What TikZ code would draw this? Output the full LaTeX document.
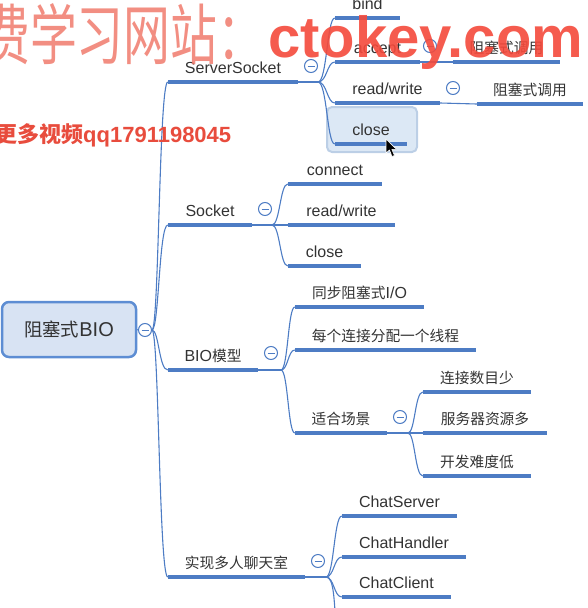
\documentclass[tikz,border=0pt]{standalone}
\usepackage{fontspec}
\setmainfont{Liberation Sans}
\newfontfamily\cjk{Noto Sans CJK SC}[Scale=0.92]
\newfontfamily\cjkw{Noto Sans CJK SC}
\definecolor{lineblue}{HTML}{4D7CC4}
\definecolor{rootfill}{HTML}{D8E3F3}
\definecolor{rootborder}{HTML}{5D8DD3}
\definecolor{selfill}{HTML}{DCE8F5}
\definecolor{selborder}{HTML}{BCCFE6}
\definecolor{txt}{HTML}{333333}
\definecolor{wmlight}{HTML}{F07A6C}
\definecolor{wmred}{HTML}{F4493B}
\definecolor{wmqq}{HTML}{E84C3D}
\begin{document}
\begin{tikzpicture}[x=1pt,y=-1pt,
  topic/.style={anchor=south, inner xsep=0pt, inner ysep=0pt, text height=12pt, text depth=8.5pt,
    text=txt, font=\fontsize{16}{19}\selectfont},
  uline/.style={draw=lineblue, line width=3.2pt},
  conn/.style={draw=lineblue, line width=1.1pt},
  fold/.style={circle, draw=lineblue, fill=white, line width=1pt, minimum size=13pt, inner sep=0pt,
    path picture={\draw[lineblue, line width=1pt] ([xshift=-3.5pt]path picture bounding box.center) -- ([xshift=3.5pt]path picture bounding box.center);}},
  rootbox/.style={draw=rootborder, fill=rootfill, line width=2.5pt, rounded corners=7pt,
    minimum width=134pt, minimum height=55pt, text=txt, font=\fontsize{20}{24}\selectfont},
  selbox/.style={draw=selborder, fill=selfill, line width=2pt, rounded corners=5pt, minimum width=90pt, minimum height=45pt},
  wm/.style={anchor=base west, inner sep=0pt}
]
\useasboundingbox (0,0) rectangle (588,608);

% root
\node[rootbox] (root) at (69,329.5) {{\cjk 阻塞式}BIO};
\node[fold] (fRoot) at (145,330) {};
\draw[conn] (root.east) -- (fRoot.west);

% main topics
\node[topic, minimum width=130pt] (ss) at (233,82) {ServerSocket};
\node[topic, minimum width=84pt] (sock) at (210,225) {Socket};
\node[topic, minimum width=90pt] (bio) at (213,370) {BIO{\cjk 模型}};
\node[topic, minimum width=137pt] (chat) at (236.5,577) {\cjk 实现多人聊天室};

\foreach \n in {ss,sock,bio,chat}{
  \draw[conn] (fRoot.east) .. controls (159,330) and (159,0 |- \n.south west) .. (\n.south west);
}

% ServerSocket children
\node[selbox] (closeSel) at (372,129.5) {};
\node[topic, minimum width=65pt] (bind) at (367.5,18) {bind};
\node[topic, minimum width=85pt] (accept) at (377.5,62) {accept};
\node[topic, minimum width=107pt] (acceptB) at (506.5,62) {\cjk 阻塞式调用};
\node[topic, minimum width=105pt] (rw) at (387.5,103) {read/write};
\node[topic, minimum width=106pt] (rwB) at (530,104) {\cjk 阻塞式调用};
\node[topic, minimum width=72pt] (close) at (371,144) {close};

% Socket children
\node[topic, minimum width=94pt] (skConnect) at (335,184) {connect};
\node[topic, minimum width=107pt] (skRW) at (341.5,225) {read/write};
\node[topic, minimum width=73pt] (skClose) at (324.5,266) {close};

% BIO model children
\node[topic, minimum width=129pt] (bSync) at (359.5,307) {{\cjk 同步阻塞式}I/O};
\node[topic, minimum width=181pt] (bThread) at (385.5,350) {\cjk 每个连接分配一个线程};
\node[topic, minimum width=92pt] (bScene) at (341,433) {\cjk 适合场景};
\node[topic, minimum width=108pt] (scFew) at (477,392) {\cjk 连接数目少};
\node[topic, minimum width=124pt] (scRes) at (485,433) {\cjk 服务器资源多};
\node[topic, minimum width=108pt] (scEasy) at (477,476) {\cjk 开发难度低};

% chat children
\node[topic, minimum width=115pt] (cServer) at (399.5,516) {ChatServer};
\node[topic, minimum width=124pt] (cHandler) at (404,557) {ChatHandler};
\node[topic, minimum width=109pt] (cClient) at (396.5,597) {ChatClient};

% fork points
\coordinate (kSS) at (318,82);
\coordinate (kSock) at (272,225);
\coordinate (kBio) at (281,370);
\coordinate (kScene) at (408,433);
\coordinate (kChat) at (326,577);
\coordinate (chatMore) at (336,625);

\draw[conn] (ss.south east) -- (kSS);
\foreach \n in {bind,accept,rw,close}{
  \draw[conn] (kSS) .. controls (327,82) and (327,0 |- \n.south west) .. (\n.south west);
}
\draw[conn] (sock.south east) -- (kSock);
\foreach \n in {skConnect,skRW,skClose}{
  \draw[conn] (kSock) .. controls (280,225) and (280,0 |- \n.south west) .. (\n.south west);
}
\draw[conn] (bio.south east) -- (kBio);
\foreach \n in {bSync,bThread,bScene}{
  \draw[conn] (kBio) .. controls (288,370) and (288,0 |- \n.south west) .. (\n.south west);
}
\draw[conn] (bScene.south east) -- (kScene);
\foreach \n in {scFew,scRes,scEasy}{
  \draw[conn] (kScene) .. controls (415,433) and (415,0 |- \n.south west) .. (\n.south west);
}
\draw[conn] (chat.south east) -- (kChat);
\foreach \n in {cServer,cHandler,cClient}{
  \draw[conn] (kChat) .. controls (334,577) and (334,0 |- \n.south west) .. (\n.south west);
}
\draw[conn] (kChat) .. controls (334,577) and (334,600) .. (chatMore);
\draw[conn] (accept.south east) -- (acceptB.south west);
\draw[conn] (rw.south east) -- (rwB.south west);

% underlines
\foreach \n in {ss,sock,bio,chat,bind,accept,acceptB,rw,rwB,close,skConnect,skRW,skClose,bSync,bThread,bScene,scFew,scRes,scEasy,cServer,cHandler,cClient}{
  \draw[uline] (\n.south west) -- (\n.south east);
}

% fold circles
\node[fold] (fSS) at (311,66) {};
\node[fold] (fSock) at (265,209) {};
\node[fold] (fBio) at (271,353) {};
\node[fold] (fScene) at (400,417) {};
\node[fold] (fChat) at (318,561) {};
\node[fold] (fAccept) at (430,46) {};
\node[fold] (fRW) at (453,88) {};

% mouse cursor
\draw[white, fill=black, line width=0.6pt, line join=round]
  (386,139) -- (386,153) -- (389.5,150) -- (392,156.5) -- (394.5,155.5) -- (391.8,149.3) -- (396.5,149.3) -- cycle;

% watermarks
\node[wm, text=wmlight, opacity=0.85, xscale=0.71, font=\cjkw\fontsize{66}{66}\selectfont] (wmA) at (-17,59) {费学习网站：};
\node[wm, text=wmred, opacity=0.9, font=\bfseries\fontsize{58}{58}\selectfont] (wmB) at (268,57) {ctokey.com};
\node[wm, text=wmqq, font=\bfseries\fontsize{22}{22}\selectfont] (wmC) at (-5,142) {{\cjkw\bfseries 更多视频}qq1791198045};
\end{tikzpicture}
\end{document}
